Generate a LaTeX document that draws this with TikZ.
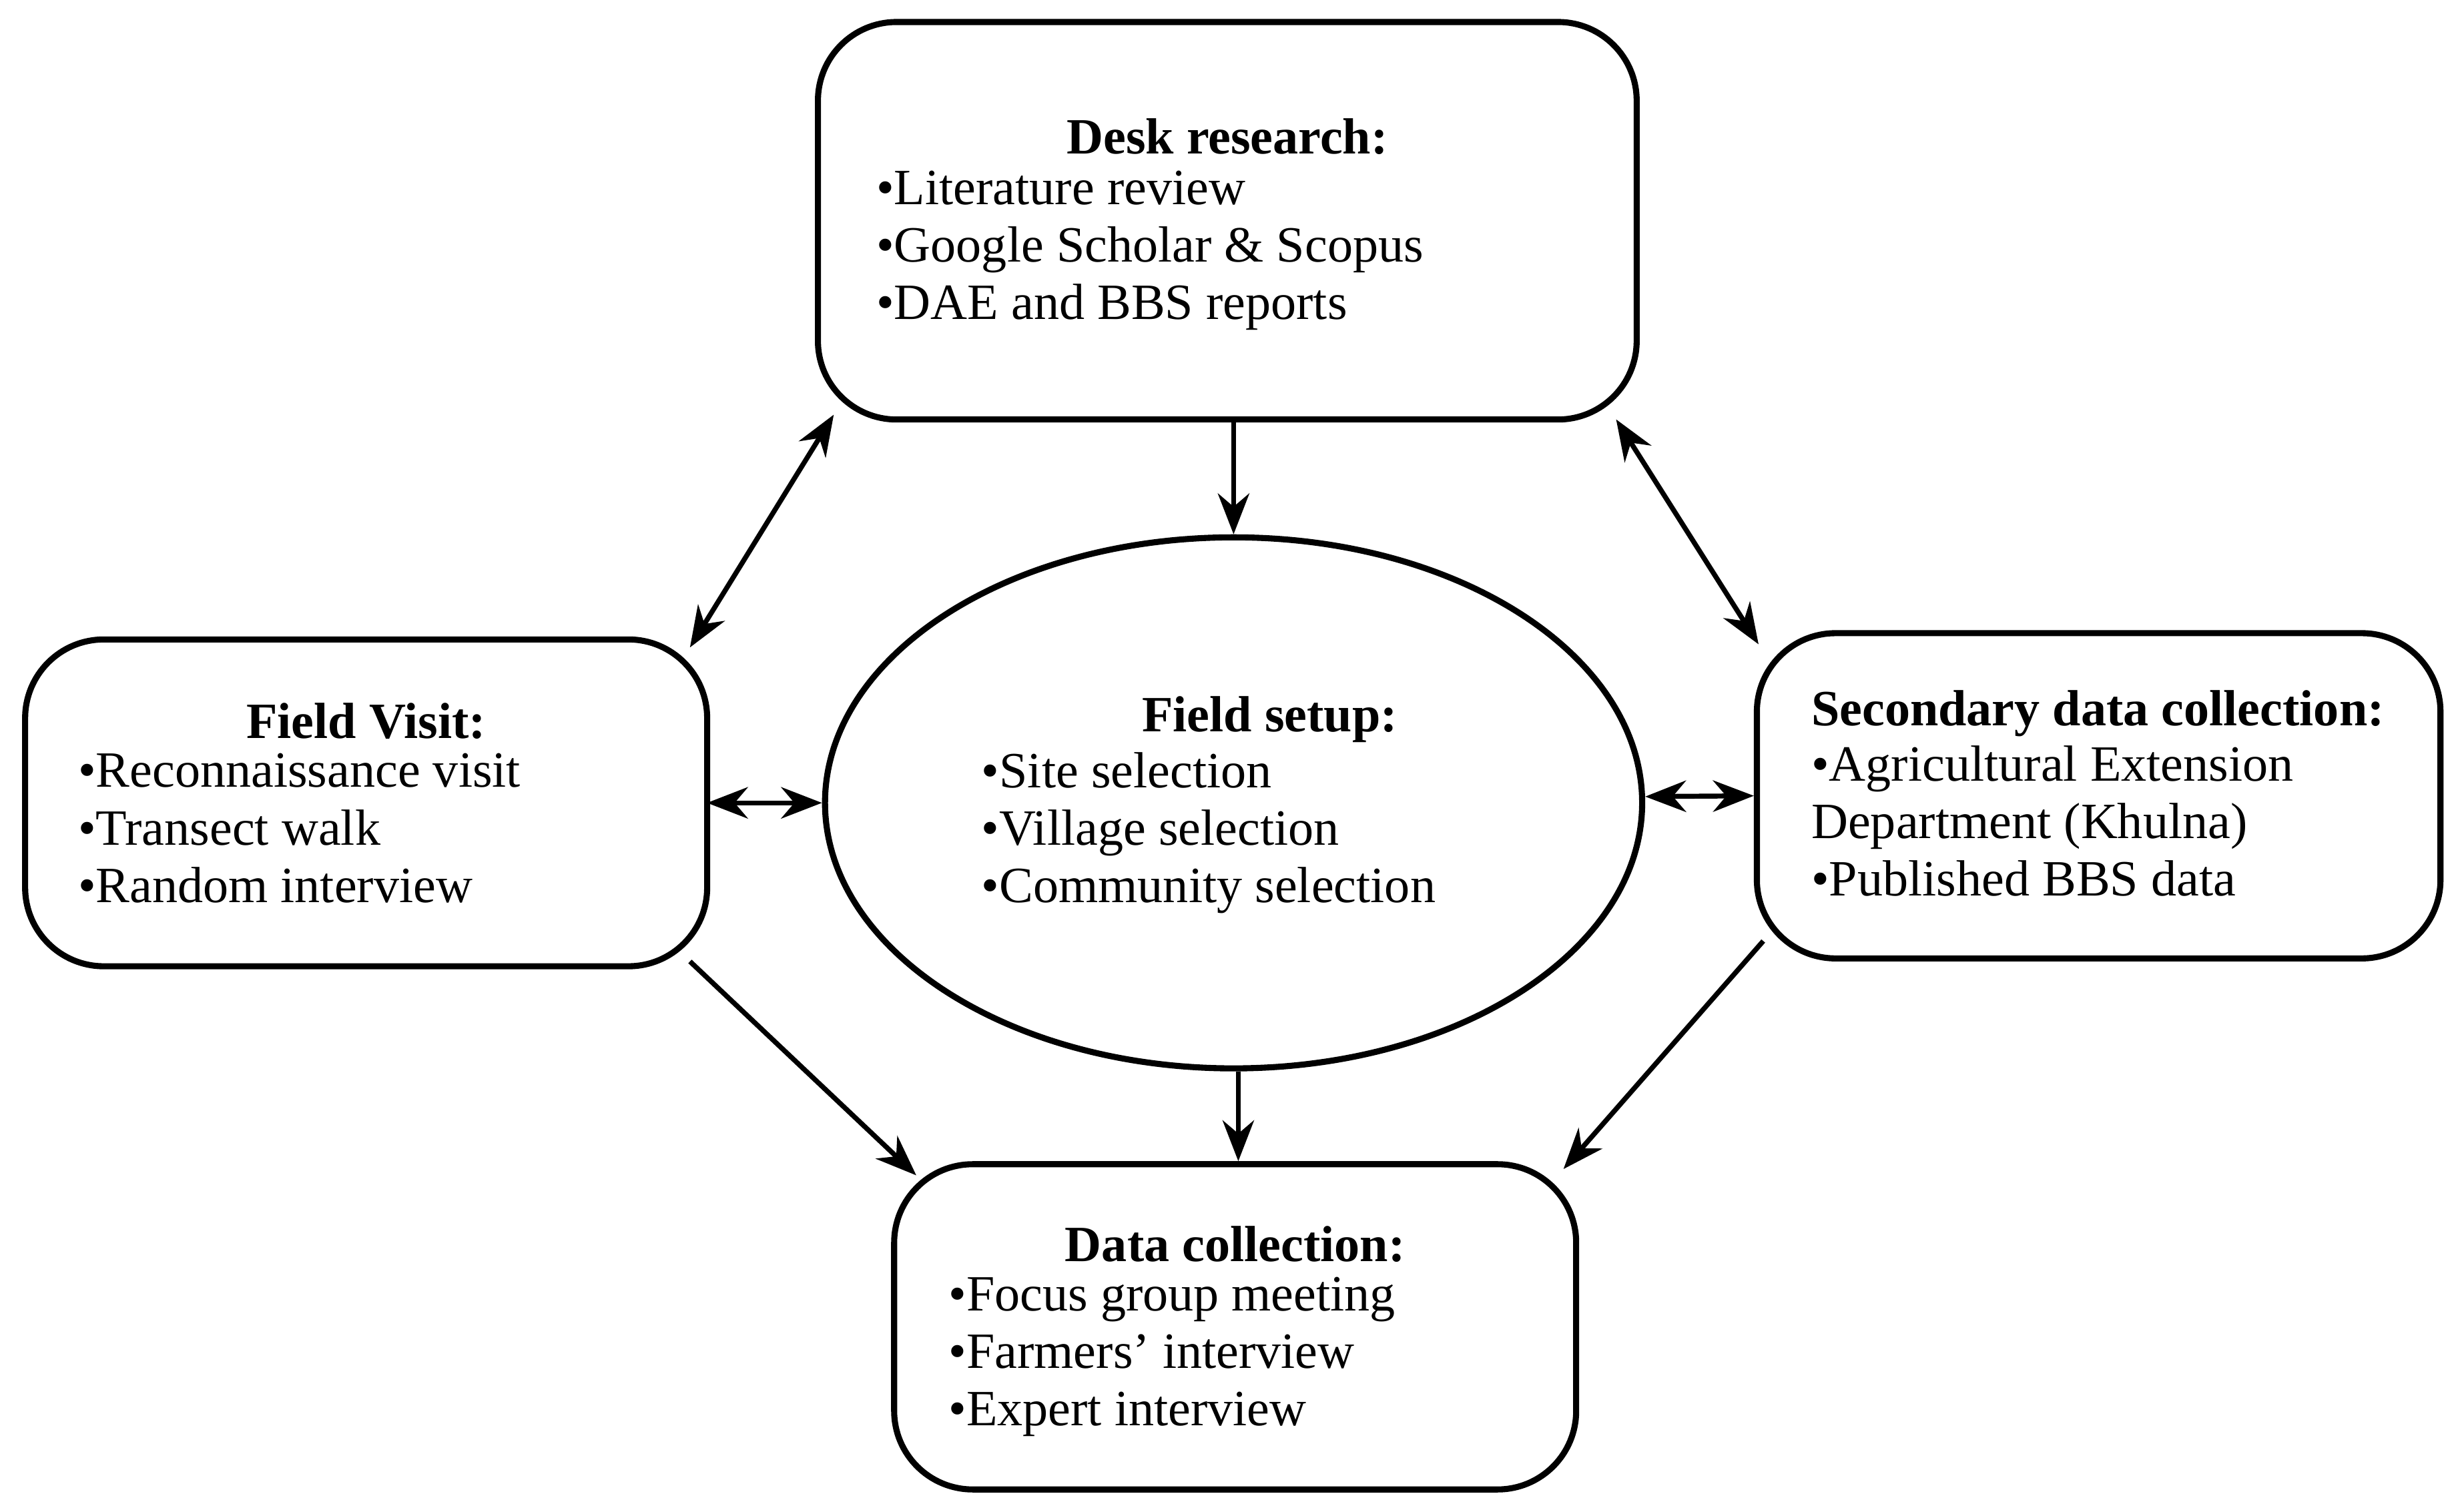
\documentclass[tikz,border=0pt]{standalone}
\usepackage{fontspec}
\setmainfont{Liberation Serif}
\usetikzlibrary{positioning,shapes.geometric,arrows.meta}
\begin{document}
\begin{tikzpicture}[
	box/.style={draw, line width=1.1pt, rounded corners=0.5cm},
	txt/.style={font=\fontsize{9.2}{10.4}\selectfont, align=left, inner sep=0pt},
	ttl/.style={font=\fontsize{9.2}{10.4}\selectfont\bfseries, inner sep=0pt},
	arr/.style={-{Stealth[length=2.6mm,width=2mm]}, line width=0.9pt},
	darr/.style={{Stealth[length=2.6mm,width=2mm]}-{Stealth[length=2.6mm,width=2mm]}, line width=0.9pt}
]
\useasboundingbox (0,0) rectangle (15.68,-9.61);

% boxes
\node[box, minimum width=5.21cm, minimum height=2.53cm] (desk) at (7.81,-1.405) {};
\node[box, minimum width=4.34cm, minimum height=2.08cm] (visit) at (2.33,-5.11) {};
\node[draw, ellipse, line width=1.1pt, minimum width=5.2cm, minimum height=3.38cm] (setup) at (7.85,-5.11) {};
\node[box, minimum width=4.35cm, minimum height=2.07cm] (second) at (13.355,-5.065) {};
\node[box, minimum width=4.34cm, minimum height=2.07cm] (data) at (7.86,-8.445) {};

% texts
\node[ttl] (desk-t) at (7.81,-0.87) {Desk research:};
\node[txt, anchor=north west] (desk-b) at (5.57,-1.08) {•Literature review\\•Google Scholar \& Scopus\\•DAE and BBS reports};
\node[ttl] (visit-t) at (2.33,-4.59) {Field Visit:};
\node[txt, anchor=north west] (visit-b) at (0.49,-4.79) {•Reconnaissance visit\\•Transect walk\\•Random interview};
\node[ttl] (setup-t) at (8.08,-4.58) {Field setup:};
\node[txt, anchor=north west] (setup-b) at (6.24,-4.78) {•Site selection\\•Village selection\\•Community selection};
\node[ttl] (second-t) at (13.35,-4.54) {Secondary data collection:};
\node[txt, anchor=north west] (second-b) at (11.52,-4.74) {•Agricultural Extension\\Department (Khulna)\\•Published BBS data};
\node[ttl] (data-t) at (7.86,-7.92) {Data collection:};
\node[txt, anchor=north west] (data-b) at (6.03,-8.12) {•Focus group meeting\\•Farmers’ interview\\•Expert interview};

% connectors
\draw[arr] (desk.south -| setup.north) -- (setup.north);
\draw[arr] ([xshift=0.03cm]setup.south) -- ([xshift=0.03cm]setup.south |- data.north);
\draw[darr] ([shift={(0.12,0.05)}]desk.south west) -- ([shift={(4.25,-0.07)}]visit.north west);
\draw[darr] ([shift={(-0.15,0.02)}]desk.south east) -- ([shift={(0.03,-0.09)}]second.north west);
\draw[darr] ([xshift=-0.02cm]visit.east) -- (setup.west);
\draw[darr] ([yshift=0.04cm]setup.east) -- ([yshift=0.0cm]second.west);
\draw[arr] ([shift={(4.25,0.05)}]visit.south west) -- ([shift={(0.16,-0.09)}]data.north west);
\draw[arr] ([shift={(0.06,0.13)}]second.south west) -- ([shift={(-0.1,-0.05)}]data.north east);
\end{tikzpicture}
\end{document}
